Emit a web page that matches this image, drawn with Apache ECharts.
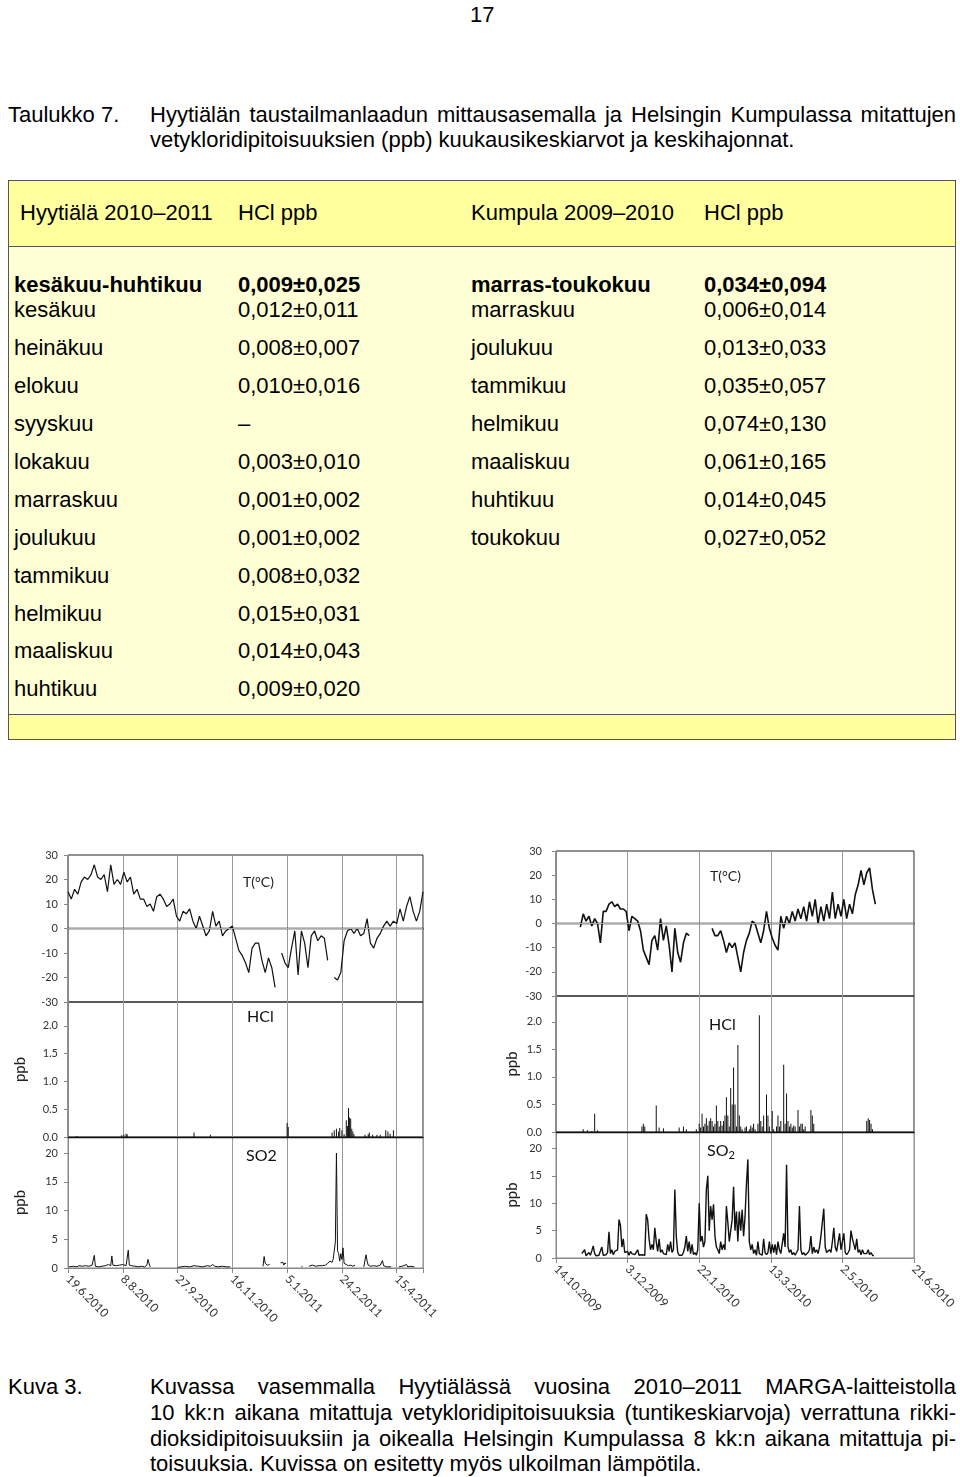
<!DOCTYPE html>
<html>
<head>
<meta charset="utf-8">
<script src="https://cdn.jsdelivr.net/npm/echarts@6/dist/echarts.min.js"></script>
<style>
  html, body { margin:0; padding:0; background:#fff; }
  body { width:960px; height:1477px; position:relative; overflow:hidden;
         font-family:"Liberation Sans", Arial, sans-serif; color:#000; }
  .t { position:absolute; white-space:nowrap; }
  .just { text-align:justify; text-align-last:justify; }
  #table { position:absolute; left:8px; top:180px; width:948px; height:560px;
           box-sizing:border-box; border:1.5px solid #555; background:#FFFFD6; }
  #thead { position:absolute; left:0; top:0; right:0; height:65px; background:#FFFF9E; border-bottom:1.5px solid #555; }
  #tfoot { position:absolute; left:0; bottom:0; right:0; height:24px; background:#FFFF9E; border-top:1.5px solid #555; }
  #chart { position:absolute; left:0; top:830px; width:960px; height:510px; }
</style>
</head>
<body>
<div id="table"><div id="thead"></div><div id="tfoot"></div></div>
<div id="chart"></div>
<script>
// ---------------- table data ----------------
const headerCells = ['Hyytiälä 2010–2011', 'HCl ppb', 'Kumpula 2009–2010', 'HCl ppb'];
const summaryRow = ['kesäkuu-huhtikuu', '0,009±0,025', 'marras-toukokuu', '0,034±0,094'];
const hyytialaMonths = ['kesäkuu','heinäkuu','elokuu','syyskuu','lokakuu','marraskuu','joulukuu','tammikuu','helmikuu','maaliskuu','huhtikuu'];
const hyytialaValues = ['0,012±0,011','0,008±0,007','0,010±0,016','–','0,003±0,010','0,001±0,002','0,001±0,002','0,008±0,032','0,015±0,031','0,014±0,043','0,009±0,020'];
const kumpulaMonths = ['marraskuu','joulukuu','tammikuu','helmikuu','maaliskuu','huhtikuu','toukokuu'];
const kumpulaValues = ['0,006±0,014','0,013±0,033','0,035±0,057','0,074±0,130','0,061±0,165','0,014±0,045','0,027±0,052'];

// ---------------- chart data ----------------
// x axes: days from 19.6.2010 (left) and 14.10.2009 (right), ticks every 50 days
const leftTickLabels = ['19.6.2010','8.8.2010','27.9.2010','16.11.2010','5.1.2011','24.2.2011','15.4.2011'];
const rightTickLabels = ['14.10.2009','3.12.2009','22.1.2010','13.3.2010','2.5.2010','21.6.2010'];

// Hyytiälä temperature, every 3 days from day 0
const leftTempStart = 0, leftTempStep = 3;
const leftTemp = [15,12,16,14,19,21,20,22,26,21,
  20,22,15,26,18,20,18,23,19,21,
  14,16,12,12,9,10,7,13,14,12,
  9,10,12,5,3,7,6,8,3,0,
  5,1,-3,-1,7,1,3,-3,-1,0,
  1,-4,-9,-11,-14,-18,-8,-6,-6,-13,
  -18,-12,-16,-24,null,-10,-14,-16,-8,-1,
  -19,-1,-6,-16,-3,-1,-5,-3,-4,-13,
  null,-20,-21,-18,-5,-1,0,-2,0,-3,
  -2,4,-6,-8,-4,-2,1,3,1,3,
  2,8,3,9,13,7,3,7,15];

// Hyytiälä HCl [day, ppb]
const leftHcl = [[8,0.02],[49,0.03],[51,0.04],[53,0.06],[54,0.05],[115,0.08],[130,0.04],[200,0.25],[201,0.18],
  [241,0.08],[243,0.12],[245,0.15],[247,0.1],[248,0.16],[250,0.12],[252,0.05],[254,0.3],[255,0.2],[256,0.52],[257,0.35],
  [258,0.33],[259,0.15],[260,0.1],[261,0.05],[271,0.04],[274,0.05],[275,0.08],[278,0.04],[282,0.04],[285,0.04],
  [290,0.12],[292,0.1],[294,0.06],[297,0.12]];

// Hyytiälä SO2 [day, ppb]
const leftSo2 = [[1,0.2],[5,0.3],[8,0.2],[10,0.4],[13,0.3],[16,0.4],[19,0.3],[22,0.5],[23,0.3],[24,2.2],[25,0.3],
  [28,0.2],[31,0.3],[34,0.4],[37,0.6],[39,0.4],[40,2.1],[41,0.5],[44,0.4],[47,0.5],[50,0.6],[53,0.4],[55,3.1],[56,0.5],
  [58,0.4],[61,0.3],[64,0.2],[67,0.3],[70,0.2],[72,0.5],[73,1.5],[74,0.8],[75,0.2],[76,null],
  [100,0.1],[103,0.2],[107,0.3],[111,0.2],[115,0.4],[119,0.3],[123,0.2],[127,0.4],[130,0.3],[132,0.6],[134,0.3],
  [137,0.2],[141,0.3],[145,0.2],[148,0.2],[150,null],
  [178,0.3],[179,2.0],[180,0.8],[181,1.0],[182,0.5],[183,0.8],[184,0.6],[185,null],
  [194,0.9],[195,0.6],[196,1.0],[197,0.5],[198,0.9],[199,0.7],[200,null],
  [213,0.2],[214,0.3],[215,null],
  [220,0.3],[223,0.5],[226,0.3],[229,0.4],[232,0.4],[235,0.5],[237,0.8],[239,1.2],[241,1.0],[242,1.5],[243,1.2],
  [244,4.5],[245,20.0],[246,3.0],[247,2.5],[248,1.2],[249,2.5],[250,1.5],[251,3.5],[252,0.8],[254,0.6],[256,0.4],
  [258,0.5],[260,0.3],[262,0.5],[264,null],
  [270,0.2],[272,2.3],[273,1.2],[274,0.5],[276,0.3],[279,0.4],[282,0.3],[285,0.5],[287,1.3],[288,0.4],[291,0.2],
  [295,0.2],[298,null],
  [302,0.2],[305,0.3],[309,0.6],[310,0.2],[313,0.3],[316,0.2],[318,null]];

// Kumpula temperature, every 2 days from day 17
const rightTempStart = 17, rightTempStep = 2;
const rightTemp = [-1.5,4,1,3,-1,2,0,-8,5,5,
  8,9,7,8,6,6,5,-3,3,2,
  1,-3,-11,-14,-17,-7,-5,-11,2,-7,
  -1,-9,-20,-2,-12,-16,-8,-4,-5,null,
  null,null,null,null,null,null,-2,-5,-5,-3,
  -7,-12,-8,-10,-8,-14,-20,-12,-7,-4,
  1,0,-4,-8,-3,5,-2,-6,-9,-11,
  3,-2,3,0,5,1,6,2,7,1,
  9,3,10,0,7,1,8,2,13,2,
  8,3,10,2,8,4,12,16,22,16,
  21,23,14,8];

// Kumpula HCl [day, ppb]
const rightHcl = [[19,0.05],[22,0.03],[25,0.02],[27,0.33],[29,0.03],[60,0.1],[61,0.15],[62,0.1],[70,0.48],[72,0.08],
  [75,0.07],[86,0.08],[89,0.1],[91,0.05],[98,0.05],[100,0.15],[101,0.08],[102,0.33],[103,0.1],[104,0.15],[105,0.25],
  [106,0.12],[107,0.2],[108,0.25],[109,0.2],[110,0.1],[111,0.15],[112,0.48],[113,0.2],[114,0.1],[115,0.2],[116,0.12],
  [117,0.2],[118,0.3],[119,0.63],[120,0.3],[121,0.1],[122,0.8],[123,0.5],[124,1.17],[125,0.5],[126,0.1],[127,1.58],
  [128,0.3],[129,0.1],[130,0.05],[132,0.08],[133,0.1],[135,0.05],[136,0.12],[137,0.08],[138,0.15],[139,0.05],[141,0.15],
  [142,2.12],[143,0.2],[144,0.1],[145,0.3],[147,0.68],[148,0.3],[149,0.1],[151,0.38],[152,0.05],[154,0.1],[155,0.3],
  [156,0.1],[157,0.2],[159,1.22],[160,0.15],[161,0.7],[162,0.2],[163,0.1],[164,0.15],[165,0.08],[166,0.12],[167,0.1],
  [169,0.4],[170,0.1],[171,0.15],[172,0.15],[173,0.05],[174,0.1],[178,0.4],[179,0.3],[180,0.15],
  [217,0.2],[218,0.25],[219,0.22],[220,0.15],[221,0.05]];

// Kumpula SO2, daily from day 18
const rightSo2Start = 18, rightSo2Step = 1;
const rightSo2 = [0.8,0.5,1.5,0.4,0.6,1.0,0.5,1.3,2.2,0.8,
  0.4,0.6,0.5,0.8,2.0,0.5,0.4,0.6,1.0,4.8,
  0.8,1.5,0.6,1.2,1.0,1.5,7.0,6.0,2.0,3.5,
  1.0,0.8,1.2,0.5,1.2,0.8,1.0,0.6,0.8,1.5,
  0.5,0.8,0.6,0.8,0.5,8.0,7.0,3.5,1.5,2.5,
  1.5,5.5,3.0,1.2,3.5,1.0,1.5,0.8,1.0,0.6,
  2.5,1.2,3.0,1.0,1.5,12.5,4.0,1.0,0.5,0.8,
  0.5,1.0,2.0,4.0,1.2,3.0,0.8,2.5,0.6,1.0,
  0.5,1.5,10.0,3.0,4.0,2.0,3.0,12.5,15.0,5.0,
  9.5,7.0,9.8,4.0,2.0,1.5,0.8,3.0,1.5,2.5,
  1.5,9.5,6.5,3.0,5.0,7.0,13.0,5.0,8.5,3.0,
  8.5,5.0,8.8,4.0,7.5,13.5,18.0,3.0,1.5,2.5,
  0.8,1.5,0.5,3.0,0.8,1.0,0.5,3.5,1.0,0.6,
  1.0,3.0,0.8,2.5,1.0,2.5,0.6,3.0,1.5,0.8,
  1.0,4.5,2.0,17.0,2.0,1.0,1.5,0.6,1.0,0.5,
  0.8,1.5,9.5,1.5,0.6,1.0,0.5,0.8,1.0,1.5,
  4.0,0.8,2.0,1.0,1.5,0.8,2.0,4.0,6.5,9.0,
  2.0,1.0,0.8,1.5,1.0,3.0,5.5,2.0,1.2,1.0,
  4.5,1.5,1.2,4.5,1.0,0.6,1.0,1.5,5.0,3.5,
  2.5,1.5,3.5,1.0,1.5,0.6,1.5,0.8,0.5,0.8,
  1.5,0.6,1.0,0.5,0.4];

// ---------------- page text ----------------
const FS = 22;
function txt(s, x, baseline, extra) {
  const d = document.createElement('div');
  d.className = 't';
  d.style.left = x + 'px';
  d.style.top = (baseline - 0.8465 * FS) + 'px';
  d.style.fontSize = FS + 'px';
  d.style.lineHeight = FS + 'px';
  if (extra) Object.assign(d.style, extra);
  d.textContent = s;
  document.body.appendChild(d);
  return d;
}
txt('17', 470, 22.7);
txt('Taulukko 7.', 8, 123);
txt('Hyytiälän taustailmanlaadun mittausasemalla ja Helsingin Kumpulassa mitattujen', 150, 123, {width:'806px'}).classList.add('just');
txt('vetykloridipitoisuuksien (ppb) kuukausikeskiarvot ja keskihajonnat.', 150, 148);

const colX = [14, 238, 471, 704];
txt(headerCells[0], 20, 221); txt(headerCells[1], 238, 221);
txt(headerCells[2], 471, 221); txt(headerCells[3], 704, 221);
summaryRow.forEach((s, i) => txt(s, colX[i], 293, {fontWeight:'bold'}));
hyytialaMonths.forEach((m, i) => { const b = 318 + i * 37.9; txt(m, colX[0], b); txt(hyytialaValues[i], colX[1], b); });
kumpulaMonths.forEach((m, i) => { const b = 318 + i * 37.9; txt(m, colX[2], b); txt(kumpulaValues[i], colX[3], b); });

txt('Kuva 3.', 8, 1395);
const capLines = [
  'Kuvassa vasemmalla Hyytiälässä vuosina 2010–2011 MARGA-laitteistolla',
  '10 kk:n aikana mitattuja vetykloridipitoisuuksia (tuntikeskiarvoja) verrattuna rikki-',
  'dioksidipitoisuuksiin ja oikealla Helsingin Kumpulassa 8 kk:n aikana mitattuja pi-',
  'toisuuksia. Kuvissa on esitetty myös ulkoilman lämpötila.'];
capLines.forEach((l, i) => {
  const d = txt(l, 150, 1395 + i * 25.67, i < 3 ? {width:'806px'} : null);
  if (i < 3) d.classList.add('just');
});

// ---------------- chart ----------------
const CF = 'Lato, "Open Sans", sans-serif';
const chart = echarts.init(document.getElementById('chart'), null, {renderer:'canvas'});

function dateFmt(labels) {
  return v => { const i = Math.round(v / 50); return (Math.abs(v - i * 50) < 0.01 && labels[i]) ? labels[i] : ''; };
}
function mkGrid(left, top, width, height, dark) {
  return {left, top, width, height, show:true, borderWidth:1, borderColor: dark ? '#222' : '#888', backgroundColor:'rgba(0,0,0,0)', containLabel:false};
}
function mkX(gi, max, labels, bottom) {
  return {type:'value', gridIndex:gi, min:0, max, interval:50,
    axisLine:{show:true, lineStyle:{color: bottom ? '#888' : '#111', width: bottom ? 1 : 1.3}},
    axisTick:{show:bottom, length:5, lineStyle:{color:'#888'}},
    axisLabel: bottom ? {show:true, rotate:-45, margin:9, fontSize:12, fontFamily:CF, color:'#333', formatter:dateFmt(labels)} : {show:false},
    splitLine:{show:true, lineStyle:{color:'#9a9a9a', width:1}}};
}
function mkY(gi, min, max, interval, fmt, name, margin, showMax, gap) {
  return {type:'value', gridIndex:gi, min, max, interval,
    axisLine:{show:true, lineStyle:{color:'#888'}},
    axisTick:{show:true, length:4, lineStyle:{color:'#888'}},
    axisLabel:{fontSize:11, fontFamily:CF, color:'#333', margin, showMaxLabel:showMax, formatter:fmt},
    splitLine:{show:false},
    name: name || '', nameLocation:'middle', nameRotate:90, nameGap:gap || 36,
    nameTextStyle:{fontSize:15, fontFamily:CF, color:'#222'}};
}
const f0 = v => String(v);
const f1 = v => v.toFixed(1);

const leftTData = leftTemp.map((v, i) => [leftTempStart + i * leftTempStep, v]);
const rightTData = rightTemp.map((v, i) => [rightTempStart + i * rightTempStep, v]);
const rightSo2Data = rightSo2.map((v, i) => [rightSo2Start + i * rightSo2Step, v]);

const zeroLine = {silent:true, symbol:'none', label:{show:false}, lineStyle:{color:'#aaa', type:'solid', width:1}, data:[{yAxis:0}]};
const lineS = (xi, data, w, extra) => Object.assign({type:'line', xAxisIndex:xi, yAxisIndex:xi, data, showSymbol:false, symbol:'none',
  lineStyle:{color:'#111', width:w}, connectNulls:false, z:3}, extra || {});
const barS = (xi, data) => ({type:'bar', xAxisIndex:xi, yAxisIndex:xi, data, barWidth:1, itemStyle:{color:'#111'}, z:3});

const option = {
  animation:false,
  grid:[
    mkGrid(68, 25, 355, 147, true),
    mkGrid(68, 172, 355, 135, true),
    mkGrid(68, 307, 355, 131, false),
    mkGrid(556, 21, 358, 145, true),
    mkGrid(556, 166, 358, 136, true),
    mkGrid(556, 302, 358, 126, false)
  ],
  xAxis:[
    mkX(0, 324, leftTickLabels, false), mkX(1, 324, leftTickLabels, false), mkX(2, 324, leftTickLabels, true),
    mkX(3, 250, rightTickLabels, false), mkX(4, 250, rightTickLabels, false), mkX(5, 250, rightTickLabels, true)
  ],
  yAxis:[
    mkY(0, -30, 30, 10, f0, '', 10, true),
    mkY(1, 0, 2.43, 0.5, f1, 'ppb', 10, false, 40),
    mkY(2, 0, 22.8, 5, f0, 'ppb', 10, false, 40),
    mkY(3, -30, 30, 10, f0, '', 14, true),
    mkY(4, 0, 2.47, 0.5, f1, 'ppb', 14, false, 36),
    mkY(5, 0, 23, 5, f0, 'ppb', 14, false, 36)
  ],
  series:[
    lineS(0, leftTData, 1.2, {markLine:zeroLine}),
    barS(1, leftHcl),
    lineS(2, leftSo2, 1),
    lineS(3, rightTData, 1.6, {markLine:zeroLine}),
    barS(4, rightHcl),
    lineS(5, rightSo2Data, 1.4)
  ],
  graphic:[
    {type:'text', x:243, y:52, style:{text:'T(°C)', fontSize:14, fontFamily:CF, fill:'#222', verticalAlign:'middle'}},
    {type:'text', x:247, y:187, style:{text:'HCl', fontSize:16, fontFamily:CF, fill:'#111', verticalAlign:'middle'}},
    {type:'text', x:246, y:326, style:{text:'SO2', fontSize:16, fontFamily:CF, fill:'#111', verticalAlign:'middle'}},
    {type:'text', x:710, y:46, style:{text:'T(°C)', fontSize:14, fontFamily:CF, fill:'#222', verticalAlign:'middle'}},
    {type:'text', x:709, y:195, style:{text:'HCl', fontSize:16, fontFamily:CF, fill:'#111', verticalAlign:'middle'}},
    {type:'text', x:707, y:321, style:{text:'SO{s|2}', fontSize:16, fontFamily:CF, fill:'#111', verticalAlign:'middle',
      rich:{s:{fontSize:11, fontFamily:CF, fill:'#111', padding:[8,0,0,0]}}}}
  ]
};
chart.setOption(option);
</script>
</body>
</html>
